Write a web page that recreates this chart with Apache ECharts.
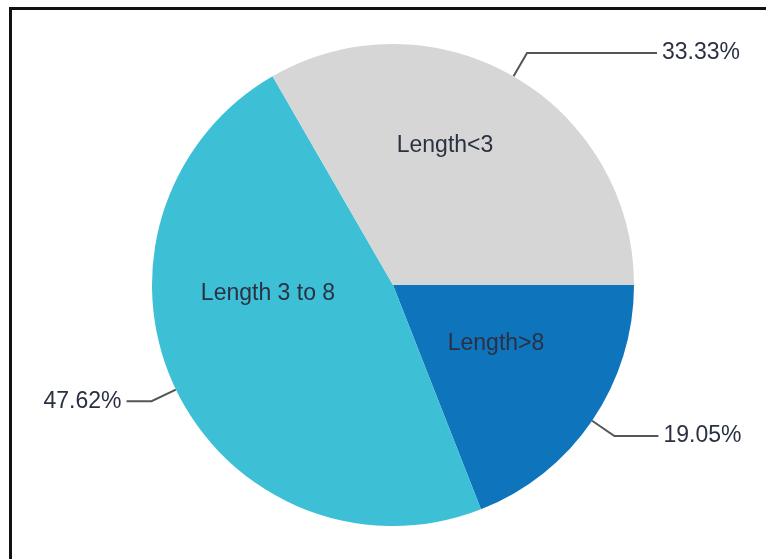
<!DOCTYPE html>
<html>
<head>
<meta charset="utf-8">
<script src="https://cdn.jsdelivr.net/npm/echarts@6/dist/echarts.min.js"></script>
<style>
  html, body { margin: 0; padding: 0; background: #fff; }
  #frame {
    position: absolute; left: 9px; top: 7px; width: 766px; height: 560px;
    border-left: 3px solid #111; border-top: 3px solid #111;
  }
  #chart { position: absolute; left: 0; top: 0; width: 766px; height: 559px; }
</style>
</head>
<body>
<div id="frame"></div>
<div id="chart"></div>
<script>
// slices, clockwise from 3 o'clock
const categories = ['Length>8', 'Length 3 to 8', 'Length<3'];
const percents = [19.05, 47.62, 33.33];
const colors = ['#0e74bb', '#3dc0d6', '#d6d6d6'];

// where Excel put the in-slice names (offset from pie centre)
const nameOffsets = [[103, 59], [-125, 9], [52, -139]];
// second leg of each leader line
const leaderLen2 = [44, 25, 130];

const textColor = '#2b3142';
const font = '"Liberation Sans", Arial, sans-serif';
const center = [393, 285];
const radius = 241;

const chart = echarts.init(document.getElementById('chart'));

chart.setOption({
  animation: false,
  series: [
    {
      name: 'slices',
      type: 'pie',
      center: center,
      radius: radius,
      startAngle: 0,
      clockwise: true,
      avoidLabelOverlap: false,
      data: categories.map((c, i) => ({
        name: c,
        value: percents[i],
        itemStyle: { color: colors[i] }
      })),
      label: {
        show: true,
        position: 'inside',
        formatter: '{b}',
        color: textColor,
        fontFamily: font,
        fontSize: 23
      },
      labelLayout: function (params) {
        const o = nameOffsets[params.dataIndex];
        return { x: center[0] + o[0], y: center[1] + o[1], align: 'center', verticalAlign: 'middle' };
      },
      labelLine: { show: false },
      emphasis: { disabled: true }
    },
    {
      name: 'percent',
      type: 'pie',
      center: center,
      radius: radius,
      startAngle: 0,
      clockwise: true,
      silent: true,
      avoidLabelOverlap: false,
      data: categories.map((c, i) => ({
        name: c,
        value: percents[i],
        itemStyle: { color: 'rgba(0,0,0,0)' },
        labelLine: { length: 27, length2: leaderLen2[i] }
      })),
      label: {
        show: true,
        position: 'outside',
        formatter: p => p.value.toFixed(2) + '%',
        color: textColor,
        fontFamily: font,
        fontSize: 23,
        distanceToLabelLine: 5
      },
      labelLine: {
        show: true,
        lineStyle: { color: '#555', width: 2 }
      },
      emphasis: { disabled: true }
    }
  ]
});
</script>
</body>
</html>
